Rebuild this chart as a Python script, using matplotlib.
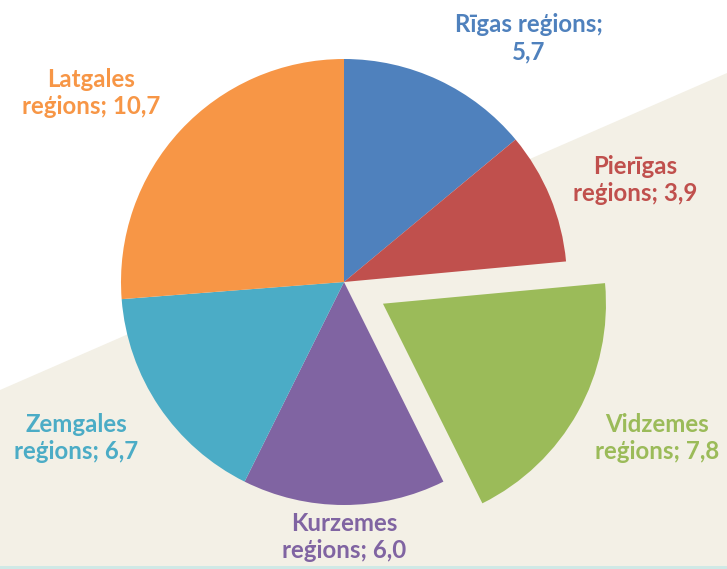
import matplotlib
matplotlib.use("Agg")
import matplotlib.pyplot as plt
from matplotlib.patches import Polygon, Rectangle

# data
regions = ["Rīgas reģions", "Pierīgas reģions", "Vidzemes reģions",
           "Kurzemes reģions", "Zemgales reģions", "Latgales reģions"]
values = [5.7, 3.9, 7.8, 6.0, 6.7, 10.7]
label_text = ["Rīgas reģions;\n5,7", "Pierīgas\nreģions; 3,9", "Vidzemes\nreģions; 7,8",
              "Kurzemes\nreģions; 6,0", "Zemgales\nreģions; 6,7", "Latgales\nreģions; 10,7"]
explode = [0, 0, 0.2, 0, 0, 0]
colors = ["#4F81BD", "#C0504D", "#9BBB59", "#8064A2", "#4BACC6", "#F79646"]

# label centres in pixels (layout)
label_px = [(529, 38), (635, 180), (657, 438), (344, 537), (76, 438), (91, 93)]

W, H = 727, 569
R = 223.0
CX, CY = 344, 282

plt.rcParams["font.family"] = ["Lato", "DejaVu Sans"]
fig = plt.figure(figsize=(W / 100, H / 100), dpi=100)
ax = fig.add_axes([0, 0, 1, 1])

# background: white upper-left, beige lower-right
fig.patch.set_facecolor("white")
ax.add_patch(Polygon([(0, 1 - 390 / H), (1, 1 - 73 / H), (1, 0), (0, 0)],
                     closed=True, transform=ax.transAxes, facecolor="#F3F0E6",
                     edgecolor="none", zorder=0))
ax.add_patch(Rectangle((0, 0), 1, 3 / H, transform=ax.transAxes,
                       facecolor="#CFE9E6", edgecolor="none", zorder=0.5))

wedges, _ = ax.pie(values, colors=colors, explode=explode, startangle=90,
                   counterclock=False, radius=1, center=(0, 0), frame=True,
                   wedgeprops=dict(edgecolor="none"))
for w in wedges:
    w.set_zorder(2)
ax.set_xlim(-CX / R, (W - CX) / R)
ax.set_ylim(-(H - CY) / R, CY / R)
ax.set_aspect("equal")
ax.axis("off")

for txt, (px, py), c in zip(label_text, label_px, colors):
    ax.text((px - CX) / R, (CY - py) / R, txt, color=c, fontsize=17.3,
            fontweight="bold", ha="center", va="center", linespacing=1.25, zorder=3)

fig.savefig("out.png", dpi=100)
